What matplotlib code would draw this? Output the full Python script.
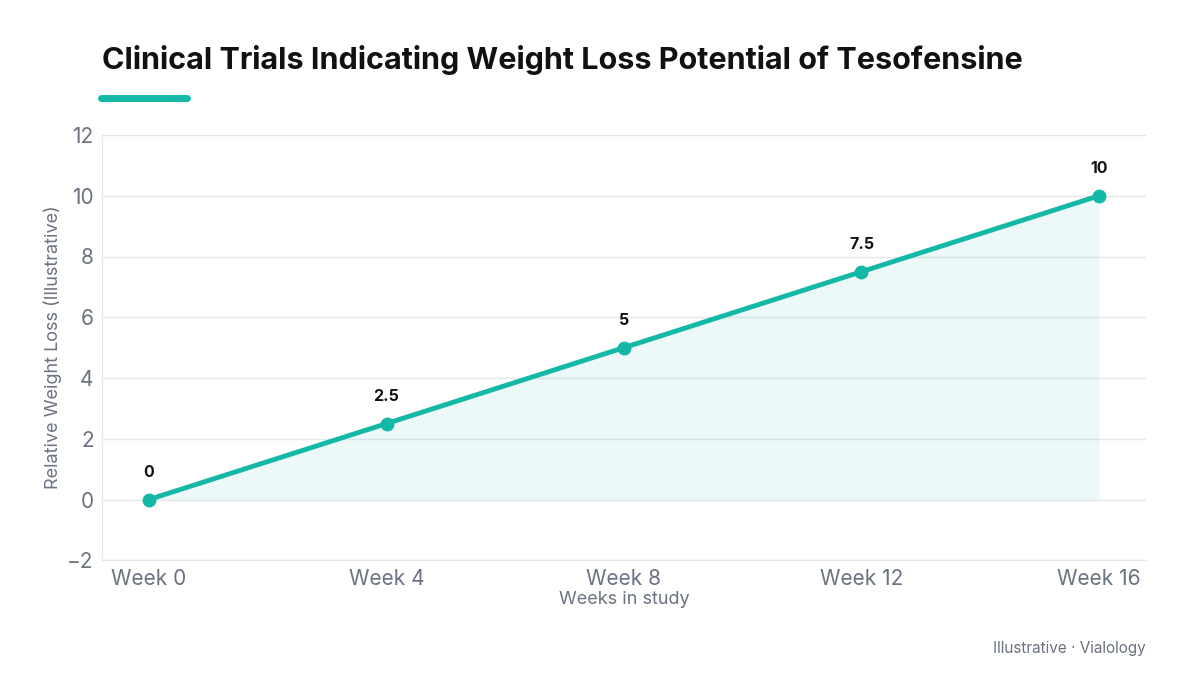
import matplotlib
matplotlib.use("Agg")
import matplotlib.pyplot as plt

weeks = ["Week 0", "Week 4", "Week 8", "Week 12", "Week 16"]
values = [0, 2.5, 5, 7.5, 10]
labels = ["0", "2.5", "5", "7.5", "10"]

plt.rcParams['font.family'] = ['Inter', 'DejaVu Sans']
teal = "#14b8a6"
grey = "#6b7280"

fig = plt.figure(figsize=(12, 6.75), dpi=100)
ax = fig.add_axes([0.085, 0.170, 0.870, 0.630])
x = list(range(len(weeks)))
ax.fill_between(x, values, 0, color=teal, alpha=0.08, linewidth=0)
ax.plot(x, values, color=teal, lw=3.5, marker="o", ms=9, zorder=3)
for xi, v, t in zip(x, values, labels):
    ax.annotate(t, (xi, v), xytext=(0, 14), textcoords="offset points",
                ha="center", va="bottom", fontsize=11.5, fontweight="bold", color="#111111")
ax.set_xlim(-0.198, 4.198)
ax.set_ylim(-2, 12)
ax.set_yticks(range(-2, 13, 2))
ax.set_xticks(x)
ax.set_xticklabels(weeks)
ax.tick_params(length=0, labelsize=15, labelcolor=grey, pad=6)
ax.grid(axis="y", color="#e5e7eb", lw=1)
ax.set_axisbelow(True)
for s in ["top", "right"]:
    ax.spines[s].set_visible(False)
for s in ["left", "bottom"]:
    ax.spines[s].set_color("#e5e7eb")
ax.set_xlabel("Weeks in study", fontsize=13, color=grey, labelpad=2)
ax.set_ylabel("Relative Weight Loss (Illustrative)", fontsize=13, color=grey, labelpad=4)

fig.text(102/1200, 1-60/675, "Clinical Trials Indicating Weight Loss Potential of Tesofensine",
         fontsize=22, fontweight="bold", color="#111111", va="center", ha="left")
fig.add_artist(plt.Line2D([101/1200, 187/1200], [1-98/675, 1-98/675], color=teal, lw=5,
                          solid_capstyle="round"))
fig.text(1146/1200, 1-649/675, "Illustrative · Vialology", fontsize=11, color=grey,
         ha="right", va="center")
fig.savefig("out.png", dpi=100)
